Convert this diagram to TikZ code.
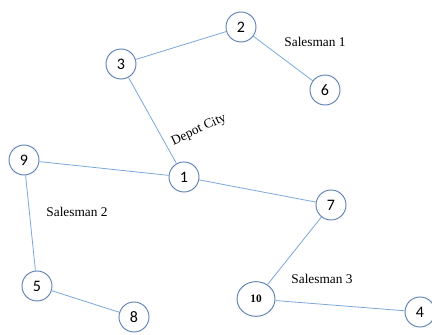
\documentclass[tikz,border=0pt]{standalone}
\usepackage{fontspec}
\setmainfont{Liberation Serif}
\newfontfamily\cityfont{Carlito}
\usetikzlibrary{shapes.geometric}

\definecolor{ringblue}{HTML}{5B7FB5}
\definecolor{edgeblue}{HTML}{7BA7DA}

\tikzset{
  city/.style={circle, draw=ringblue, line width=0.7pt, fill=white,
    minimum size=22.5pt, inner sep=0pt, font=\cityfont\fontsize{12}{12}\selectfont},
  route/.style={draw=edgeblue, line width=0.6pt},
  tag/.style={font=\fontsize{10}{10}\selectfont}
}

\begin{document}
\begin{tikzpicture}[x=0.75pt,y=0.75pt]
    \useasboundingbox (0,0) rectangle (432,335);
    % cities, y measured from the bottom
    \node[city] (c1) at (184,158) {1};
    \node[city] (c2) at (241,308) {2};
    \node[city] (c3) at (121,271) {3};
    \node[city] (c6) at (325,245) {6};
    \node[city] (c9) at (24,175) {9};
    \node[city] (c5) at (37,49) {5};
    \node[city] (c8) at (134,18) {8};
    \node[city] (c7) at (331,130) {7};
    \node[city] (c4) at (420,23) {4};
    \node[ellipse, draw=ringblue, line width=0.7pt, fill=white,
      minimum width=28.5pt, minimum height=26pt, inner sep=0pt,
      font=\bfseries\fontsize{8.5}{9}\selectfont] (c10) at (256,36) {10};

    % one tour per salesman, all leaving the depot
    \draw[route] (c1) -- (c3) -- (c2) -- (c6);
    \draw[route] (c1) -- (c9) -- (c5) -- (c8);
    \draw[route] (c1) -- (c7) -- (c10) -- (c4);

    \node[tag] (s1) at (315,293) {Salesman 1};
    \node[tag] (s2) at (77,123) {Salesman 2};
    \node[tag] (s3) at (322,56) {Salesman 3};
    \node[tag, rotate=25] (depot) at (199,205) {Depot City};
\end{tikzpicture}
\end{document}
